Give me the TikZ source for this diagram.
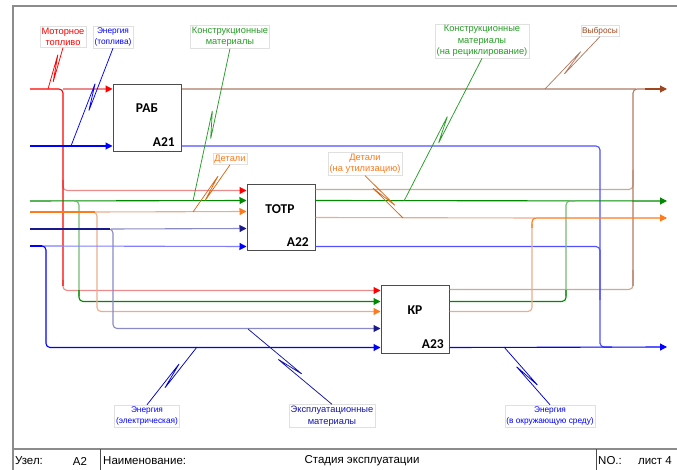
\documentclass[tikz,border=0pt]{standalone}
\usepackage{fontspec}
\setmainfont{Liberation Sans}
\newfontfamily\boxfont{Carlito}
\usetikzlibrary{arrows.meta,calc}

\definecolor{cRed}{HTML}{FF0000}
\definecolor{cRedL}{HTML}{EB8C8C}
\definecolor{cGrn}{HTML}{008A00}
\definecolor{cGrnL}{HTML}{74B874}
\definecolor{cOrg}{HTML}{FF7A1A}
\definecolor{cOrgL}{HTML}{E8AE8C}
\definecolor{cNav}{HTML}{1A1A8C}
\definecolor{cNavL}{HTML}{8A8AC4}
\definecolor{cBlu}{HTML}{0000FF}
\definecolor{cBluM}{HTML}{5050FF}
\definecolor{cBluL}{HTML}{8080FF}
\definecolor{cTan}{HTML}{C9A99B}
\definecolor{cBrn}{HTML}{A0461E}
\definecolor{cBrnM}{HTML}{B37A62}
\definecolor{frameGray}{HTML}{8C8C8C}

% squiggle connecting a label to its arrow: a narrow Z in the middle
\newcommand\squig[3]{%
  \path (#2) -- coordinate[pos=0.5] (sqm) (#3);
  \draw[#1, sqline] (#2)
    -- ($($(sqm)!14pt!(#3)$)!2.5pt!90:(#3)$)
    -- ($($(sqm)!14pt!(#2)$)!2.5pt!90:(#2)$)
    -- (#3);}

\tikzset{
  ln/.style={line width=1.1pt},
  rc/.style={rounded corners=4pt},
  arrowin/.style={-{Triangle[length=7pt,width=7pt,color=#1]}},
  sqline/.style={line width=0.75pt, rounded corners=0.8pt},
  proc/.style={draw=black!70, line width=1pt, fill=white,
    minimum width=68pt, minimum height=67pt, inner sep=0pt},
  ptitle/.style={font=\boxfont\bfseries\fontsize{13.5}{16}\selectfont, inner sep=0pt},
  lbl/.style={draw=black!12, fill=white, inner sep=1.5pt, align=center,
    font=\fontsize{9.3}{11.5}\selectfont},
  lbls/.style={lbl, font=\fontsize{8.3}{11.5}\selectfont},
  ttl/.style={font=\fontsize{11.5}{13}\selectfont, inner sep=0pt},
}

\begin{document}
\begin{tikzpicture}[x=1pt,y=-1pt]
\useasboundingbox (0,0) rectangle (677,470);

% sheet frame and title block
\draw[frameGray, line width=2pt] (12.5,470) -- (12.5,6.5) -- (677,6.5);
\draw[frameGray, line width=2pt] (12.5,449) -- (677,449);
\draw[black!70, line width=1pt] (100,449) -- (100,470) (596,449) -- (596,470);
\node[ttl, anchor=west] (tUz) at (15,461) {Узел:};
\node[ttl] (tA2) at (80,461) {A2};
\node[ttl, anchor=west] (tNm) at (103,461) {Наименование:};
\node[ttl] (tSt) at (362,461) {Стадия эксплуатации};
\node[ttl, anchor=west] (tNo) at (598,461) {NO.:};
\node[ttl, anchor=east] (tLs) at (672,461) {лист 4};

% activity boxes
\path (147,118) node[proc] (rab) {}
      (281,218) node[proc, minimum height=66pt] (tot) {}
      (415,319.5) node[proc] (kr) {};

% free ends of the arrows
\coordinate (inMF) at (30,89);
\coordinate (inEF) at (30,146);
\coordinate (inKM) at (30,201);
\coordinate (inDT) at (30,212);
\coordinate (inEM) at (30,229);
\coordinate (inEE) at (30,246);
\coordinate (outVB) at (667,89);
\coordinate (outKR) at (667,201);
\coordinate (outDU) at (667,218);
\coordinate (outEO) at (667,347);

% ---- inputs
% motor fuel
\draw[cRedL, ln, arrowin=cRed] (63,89) -- ($(rab.north west)+(0,5)$);
\draw[cRedL, ln, rc, arrowin=cRed] (63,180) |- ($(tot.north west)+(0,6)$);
\draw[cRedL, ln, rc, arrowin=cRed] (63,280) |- ($(kr.north west)+(0,5)$);
\draw[cRed, ln, rc] (inMF) -| (63,286);
% fuel energy
\draw[cBlu, ln, arrowin=cBlu] (inEF) -- ($(rab.south west)+(0,-6)$);
% construction materials
\draw[cGrn, ln, arrowin=cGrn] (inKM) -- ($(tot.north west)+(0,16)$);
\draw[cGrnL, ln, rc] (74,201) -| (79,296);
\draw[cGrn, ln, rc, arrowin=cGrn] (79,290) |- ($(kr.north west)+(0,16)$);
% parts
\draw[cOrgL, ln, arrowin=cOrg] (95,212) -- ($(tot.north west)+(0,27)$);
\draw[cOrgL, ln, rc, arrowin=cOrg] (92,212) -| (97,300) |- ($(kr.north west)+(0,26)$);
\draw[cOrg, ln] (inDT) -- (95,212);
% operating materials
\draw[cNavL, ln, arrowin=cNav] (111,229) -- ($(tot.north west)+(0,44)$);
\draw[cNavL, ln, rc, arrowin=cNav] (108,229) -| (113,300) |- ($(kr.north west)+(0,43)$);
\draw[cNav, ln] (inEM) -- (110,229);
% electric energy
\draw[cBluL, ln, arrowin=cBlu] (42,246) -- ($(tot.south west)+(0,-5)$);
\draw[cBlu, ln, rc, arrowin=cBlu] (38,246) -| (46,320) |- ($(kr.south west)+(0,-6)$);
\draw[cBlu, ln] (inEE) -- (42,246);

% ---- outputs
% emissions
\draw[cTan, ln] ($(rab.north east)+(0,5)$) -- (636,89);
\draw[cTan, ln, rc] ($(tot.north east)+(0,5)$) -| (633,170);
\draw[cTan, ln, rc] ($(kr.north east)+(0,4)$) -| (633,270);
\draw[cBrnM, ln, rc] (633,286) |- (650,89);
\draw[cBrn, ln, arrowin=cBrn] (645,89) -- (outVB);
% energy to the environment
\draw[cBluM, ln, rc] ($(rab.south east)+(0,-6)$) -| (600,340) |- (612,347);
\draw[cBluM, ln, rc] ($(tot.south east)+(0,-5)$) -| (600,300);
\draw[cBlu, ln, arrowin=cBlu] ($(kr.south east)+(0,-6)$) -- (outEO);
% materials for recycling
\draw[cGrn, ln, arrowin=cGrn] ($(tot.north east)+(0,16)$) -- (outKR);
\draw[cGrnL, ln, rc] (566,296) |- (575,201);
\draw[cGrn, ln, rc] ($(kr.north east)+(0,16)$) -| (566,290);
% parts for disposal
\draw[cOrgL, ln] ($(tot.north east)+(0,33)$) -- (535,218);
\draw[cOrgL, ln, rc] ($(kr.north east)+(0,26)$) -| (532,224);
\draw[cOrg, ln, rc, arrowin=cOrg] (532,228) |- (outDU);

% box captions
\node[ptitle] (rabT) at (147,108.5) {РАБ};
\node[ptitle, anchor=base east] (rabN) at (175,147) {A21};
\node[ptitle] (totT) at (280,209) {ТОТР};
\node[ptitle, anchor=base east] (totN) at (309,247) {A22};
\node[ptitle] (krT) at (415,310) {КР};
\node[ptitle, anchor=base east] (krN) at (444,348) {A23};

% arrow labels
\node[lbl, text=cRed] (lMF) at (63,37) {Моторное\\топливо};
\node[lbls, text=cBlu] (lEF) at (113,37) {Энергия\\(топлива)};
\node[lbl, text=cGrn!85!white] (lKM) at (230,37) {Конструкционные\\материалы};
\node[lbl, text=cGrn!85!white] (lKR) at (482,41) {Конструкционные\\материалы\\(на рециклирование)};
\node[lbls, text=cBrn] (lVB) at (600,31) {Выбросы};
\node[lbl, text=cOrg] (lDT) at (230,159) {Детали};
\node[lbl, text=cOrg] (lDU) at (365,164) {Детали\\(на утилизацию)};
\node[lbls, text=cBlu] (lEE) at (147,416) {Энергия\\(электрическая)};
\node[lbl, text=cNav!80!cBlu] (lEM) at (332,416) {Эксплуатационные\\материалы};
\node[lbls, text=cBlu] (lEO) at (550,416) {Энергия\\(в окружающую среду)};

% label leaders
\coordinate (sMF) at (48,89);
\coordinate (sEF) at (71,146);
\coordinate (sKM) at (193,201);
\coordinate (sDT) at (193,212);
\coordinate (sDU) at (403,218);
\coordinate (sKR) at (404,201);
\coordinate (sVB) at (545,89);
\coordinate (sEE) at (197,347);
\coordinate (sEM) at (248,329);
\coordinate (sEO) at (504,347);
\squig{cRed}{lMF.south}{sMF}
\squig{cBlu}{lEF.south}{sEF}
\squig{cGrn!85!white}{lKM.south}{sKM}
\squig{cOrg!85!black}{lDT.south}{sDT}
\squig{cOrg!85!black}{lDU.south}{sDU}
\squig{cGrn!85!white}{lKR.south}{sKR}
\squig{cBrnM}{lVB.south}{sVB}
\squig{cBlu!80!black}{lEE.north}{sEE}
\squig{cNav!80!cBlu}{lEM.north}{sEM}
\squig{cBlu!80!black}{lEO.north}{sEO}
\end{tikzpicture}
\end{document}
